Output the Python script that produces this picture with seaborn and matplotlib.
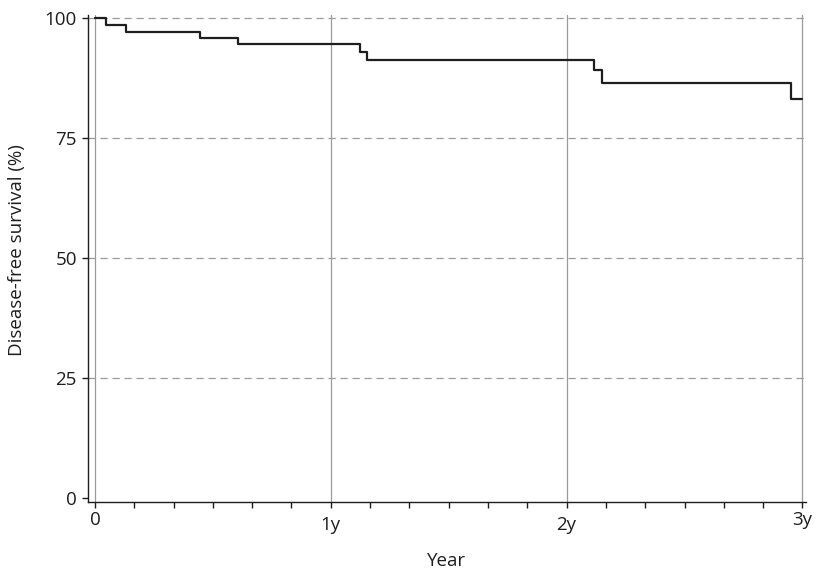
import matplotlib
matplotlib.use("Agg")
import matplotlib.pyplot as plt
from matplotlib.ticker import MultipleLocator
from matplotlib.transforms import ScaledTranslation
import seaborn as sns
import pandas as pd

# Kaplan-Meier estimate: event times (years) and disease-free survival (%)
years = [0.0, 0.047, 0.13, 0.445, 0.605, 1.123, 1.154, 2.116, 2.151, 2.953, 3.0]
survival = [100.0, 98.5, 97.0, 95.9, 94.5, 93.0, 91.2, 89.1, 86.5, 83.1, 83.1]

x_ticks = [0, 1, 2, 3]
x_tick_labels = ["0", "1y", "2y", "3y"]
y_ticks = [0, 25, 50, 75, 100]

df = pd.DataFrame({"Year": years, "Survival": survival})

sns.set_style("white")
plt.rcParams["font.family"] = ["Open Sans", "DejaVu Sans"]

FS = 13.5
INK = "#1e1e1e"

fig = plt.figure(figsize=(8.16, 5.71), dpi=100)
ax = fig.add_axes([0.1078, 0.1208, 0.8799, 0.8529])

# reference grid: solid verticals at each year, dashed horizontals at quartiles
for xv in x_ticks:
    ax.axvline(xv, color="#9a9a9a", lw=0.9, zorder=1)
for yv in y_ticks[1:]:
    ax.axhline(yv, color="#9a9a9a", lw=0.9, ls=(0, (5.8, 3.8)), zorder=1)

sns.lineplot(data=df, x="Year", y="Survival", drawstyle="steps-post",
             color=INK, lw=1.6, ax=ax, zorder=3)

ax.set_xlim(-0.0297, 3.015)
ax.set_ylim(-0.83, 100.63)
ax.set_xticks(x_ticks)
ax.set_xticklabels(x_tick_labels)
ax.xaxis.set_minor_locator(MultipleLocator(1 / 6))
ax.set_yticks(y_ticks)

for side in ["top", "right"]:
    ax.spines[side].set_visible(False)
for side in ["left", "bottom"]:
    ax.spines[side].set_color(INK)
    ax.spines[side].set_linewidth(1.0)

ax.tick_params(axis="both", which="both", direction="out", length=4.0,
               width=1.0, color=INK, labelsize=FS, labelcolor=INK,
               bottom=True, left=True)
ax.tick_params(axis="x", which="major", pad=6)
ax.tick_params(axis="y", which="major", pad=4)
ax.tick_params(axis="y", which="minor", left=False)

# end labels sit slightly higher than the inner year labels
for lbl in (ax.get_xticklabels()[0], ax.get_xticklabels()[-1]):
    lbl.set_transform(lbl.get_transform() + ScaledTranslation(0, 5 / 100, fig.dpi_scale_trans))

ax.set_xlabel("Year", fontsize=FS, color=INK, labelpad=13)
ax.set_ylabel("Disease-free survival (%)", fontsize=FS, color=INK)
ax.yaxis.set_label_coords(-0.086, 0.517)

fig.savefig("out.png", dpi=100)
